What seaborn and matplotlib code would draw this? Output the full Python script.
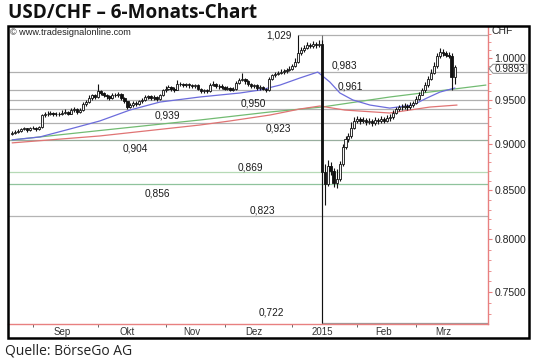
import numpy as np
import pandas as pd
import matplotlib
matplotlib.use("Agg")
import matplotlib.pyplot as plt
from matplotlib.patches import Rectangle, Polygon
from matplotlib.ticker import FixedLocator, FixedFormatter, NullFormatter
import seaborn as sns

# ---------------- data ----------------
dates = pd.bdate_range("2014-08-21", "2015-03-19")

close = [0.912, 0.913, 0.914, 0.916, 0.917, 0.915, 0.917, 0.918, 0.916, 0.919,
         0.932, 0.933, 0.934, 0.935, 0.933, 0.934, 0.933, 0.935, 0.936, 0.934,
         0.938, 0.939, 0.936, 0.938, 0.945, 0.947, 0.952, 0.955, 0.953, 0.960,
         0.958, 0.955, 0.954, 0.952, 0.956, 0.955, 0.957, 0.952, 0.948, 0.942,
         0.944, 0.946, 0.945, 0.948, 0.950, 0.953, 0.954, 0.952, 0.953, 0.951,
         0.955, 0.961, 0.963, 0.965, 0.963, 0.962, 0.969, 0.968, 0.967, 0.968,
         0.967, 0.966, 0.967, 0.963, 0.960, 0.961, 0.960, 0.967, 0.969, 0.966,
         0.966, 0.965, 0.963, 0.964, 0.962, 0.963, 0.970, 0.973, 0.975, 0.972,
         0.969, 0.966, 0.967, 0.964, 0.965, 0.963, 0.961, 0.975, 0.979, 0.981,
         0.982, 0.983, 0.984, 0.985, 0.987, 0.990, 0.995, 1.006, 1.010, 1.013,
         1.016, 1.015, 1.017, 1.016, 1.018, 0.869, 0.856, 0.876, 0.870, 0.858,
         0.862, 0.878, 0.896, 0.905, 0.908, 0.918, 0.926, 0.928, 0.925, 0.927,
         0.924, 0.926, 0.923, 0.927, 0.925, 0.928, 0.926, 0.929, 0.930, 0.935,
         0.939, 0.941, 0.942, 0.943, 0.941, 0.944, 0.946, 0.951, 0.956, 0.961,
         0.967, 0.975, 0.982, 0.990, 1.002, 1.008, 1.006, 1.004, 1.003, 0.977,
         0.9893]

high = [0.914, 0.915, 0.916, 0.918, 0.919, 0.918, 0.919, 0.920, 0.919, 0.920,
        0.934, 0.936, 0.937, 0.937, 0.936, 0.936, 0.936, 0.938, 0.939, 0.937,
        0.940, 0.942, 0.940, 0.940, 0.947, 0.950, 0.955, 0.957, 0.957, 0.968,
        0.962, 0.959, 0.957, 0.956, 0.958, 0.958, 0.959, 0.958, 0.953, 0.949,
        0.946, 0.948, 0.948, 0.950, 0.952, 0.955, 0.956, 0.955, 0.955, 0.954,
        0.957, 0.963, 0.966, 0.967, 0.966, 0.965, 0.973, 0.971, 0.970, 0.970,
        0.970, 0.969, 0.969, 0.968, 0.964, 0.963, 0.963, 0.970, 0.972, 0.970,
        0.968, 0.968, 0.966, 0.966, 0.965, 0.965, 0.972, 0.976, 0.982, 0.976,
        0.973, 0.970, 0.969, 0.968, 0.967, 0.966, 0.964, 0.977, 0.981, 0.983,
        0.984, 0.986, 0.987, 0.988, 0.990, 0.993, 1.000, 1.029, 1.014, 1.016,
        1.020, 1.019, 1.021, 1.020, 1.022, 1.022, 0.878, 0.882, 0.880, 0.874,
        0.872, 0.881, 0.900, 0.909, 0.912, 0.924, 0.930, 0.931, 0.930, 0.930,
        0.929, 0.929, 0.928, 0.930, 0.929, 0.931, 0.930, 0.932, 0.933, 0.938,
        0.942, 0.944, 0.945, 0.946, 0.945, 0.947, 0.949, 0.954, 0.959, 0.964,
        0.971, 0.978, 0.986, 0.995, 1.006, 1.012, 1.011, 1.009, 1.008, 1.006,
        0.991]

low = [0.910, 0.911, 0.912, 0.913, 0.915, 0.913, 0.914, 0.916, 0.914, 0.915,
       0.918, 0.930, 0.931, 0.932, 0.931, 0.931, 0.931, 0.932, 0.933, 0.932,
       0.933, 0.936, 0.934, 0.935, 0.937, 0.943, 0.946, 0.950, 0.951, 0.952,
       0.955, 0.953, 0.951, 0.950, 0.951, 0.953, 0.953, 0.950, 0.946, 0.939,
       0.940, 0.942, 0.943, 0.944, 0.946, 0.949, 0.951, 0.950, 0.950, 0.949,
       0.950, 0.954, 0.959, 0.961, 0.960, 0.959, 0.961, 0.966, 0.965, 0.965,
       0.964, 0.964, 0.964, 0.961, 0.958, 0.958, 0.958, 0.959, 0.966, 0.964,
       0.963, 0.963, 0.961, 0.961, 0.960, 0.960, 0.962, 0.969, 0.972, 0.969,
       0.966, 0.964, 0.964, 0.962, 0.962, 0.961, 0.959, 0.960, 0.973, 0.977,
       0.979, 0.980, 0.981, 0.982, 0.984, 0.985, 0.989, 0.994, 1.004, 1.008,
       1.011, 1.012, 1.013, 1.013, 1.014, 0.722, 0.835, 0.854, 0.866, 0.853,
       0.852, 0.860, 0.876, 0.894, 0.902, 0.906, 0.916, 0.923, 0.922, 0.923,
       0.921, 0.922, 0.920, 0.921, 0.922, 0.923, 0.923, 0.924, 0.926, 0.928,
       0.933, 0.937, 0.938, 0.939, 0.938, 0.939, 0.942, 0.945, 0.950, 0.955,
       0.959, 0.965, 0.973, 0.980, 0.988, 1.000, 1.003, 1.001, 1.000, 0.962,
       0.969]

first_open = 0.911
opens = [first_open] + close[:-1]

# moving averages / trend line (bar position, value)
blue_pos = [0, 9.4, 19.6, 29.7, 39.9, 50.1, 63.6, 77.2, 84, 90.8, 97.5, 103.6,
            107.7, 111.1, 115.5, 121.3, 128, 135.8, 140.6, 145, 150.1]
blue_val = [0.9042, 0.9075, 0.9164, 0.9255, 0.938, 0.9473, 0.9532, 0.9579,
            0.9614, 0.9673, 0.9757, 0.9829, 0.9709, 0.9579, 0.9497, 0.9438,
            0.9403, 0.9438, 0.952, 0.959, 0.9638]
red_pos = [0, 29.7, 63.6, 73.8, 87.4, 97.5, 104.3, 112.8, 128, 141.6, 150.8]
red_val = [0.9009, 0.9086, 0.9209, 0.9255, 0.9323, 0.9392, 0.9427, 0.938,
           0.9346, 0.9415, 0.9438]
green_pos = [0, 29.7, 63.6, 87.4, 105, 128, 160.6]
green_val = [0.9042, 0.9147, 0.9266, 0.9358, 0.9415, 0.9532, 0.9673]

# horizontal levels
levels = [0.983, 0.961, 0.950, 0.939, 0.923, 0.904, 0.869, 0.856, 0.823]
level_colors = ["#b0b0b0", "#b0b0b0", "#b0b0b0", "#b0b0b0", "#b0b0b0",
                "#98ae9e", "#b6dab6", "#8fc39c", "#b4b4b4"]
range_high = 1.029
range_low = 0.722
range_high_pos = 97
range_low_pos = 105

label_texts = ["1,029", "0,983", "0,961", "0,950", "0,939", "0,923", "0,904",
               "0,869", "0,856", "0,823", "0,722"]
label_values = [1.029, 0.983, 0.961, 0.950, 0.939, 0.923, 0.904, 0.869, 0.856,
                0.823, 0.722]
label_pos = [90.4, 112.8, 114.5, 81.6, 52.5, 90.4, 41.7, 80.6, 49.1, 85, 88]
label_dy = [-0.7, 4.3, 2.9, -2.9, -4.3, -3.6, -5.8, 3.6, -6.5, 4.3, 7.2]  # points

yticks = [0.75, 0.80, 0.85, 0.90, 0.95, 1.00]
ytick_labels = ["0.7500", "0.8000", "0.8500", "0.9000", "0.9500", "1.0000"]
month_names = ["Sep", "Okt", "Nov", "Dez", "2015", "Feb", "Mrz"]
last_price = 0.9893

# ---------------- derived positions ----------------
idx = np.arange(len(dates))
df = pd.DataFrame({"date": dates, "i": idx, "open": opens, "high": high,
                   "low": low, "close": close})
month_key = dates.to_period("M")
month_start = [int(np.argmax(month_key == m)) for m in month_key.unique()[1:]]
mid_pos = []
for m in month_key.unique()[1:]:
    sel = np.where((month_key == m) & (dates.day <= 15))[0]
    mid_pos.append(int(sel[-1]))

# ---------------- figure ----------------
sns.set_theme(style="white")
plt.rcParams["font.family"] = ["Liberation Sans", "DejaVu Sans"]

W, H = 540, 360
fig = plt.figure(figsize=(W / 100, H / 100), dpi=100)
fig.patch.set_facecolor("white")
ax = fig.add_axes([8 / W, (H - 324) / H, 480 / W, (324 - 27) / H])
ax.set_facecolor("white")

ax.set_yscale("log")
ax.set_xlim(-1.4, 161.3)
ax.set_ylim(0.7210, 1.0389)

# levels
for lv, col in zip(levels, level_colors):
    ax.axhline(lv, color=col, lw=0.9, zorder=1)
ax.hlines(range_high, range_high_pos, 161.3, color="#b0b0b0", lw=0.9, zorder=1)
ax.hlines(range_low, range_low_pos, 161.3, color="#9a9a9a", lw=0.9, zorder=1)
ax.vlines(range_low_pos, range_low, range_high, color="#6a6a6a", lw=0.8, zorder=1)

# level labels
for t, v, p, dy in zip(label_texts, label_values, label_pos, label_dy):
    ax.annotate(t, xy=(p, v), xytext=(0, dy), textcoords="offset points",
                ha="center", va="center", fontsize=7.3, color="#1a1a1a",
                zorder=5)

# moving averages
sns.lineplot(x=green_pos, y=green_val, ax=ax, color="#72bb72", lw=0.9, zorder=2)
sns.lineplot(x=red_pos, y=red_val, ax=ax, color="#e07474", lw=0.9, zorder=2)
sns.lineplot(x=blue_pos, y=blue_val, ax=ax, color="#6c6cdc", lw=0.9, zorder=2)

# candles
ax.vlines(df["i"], df["low"], df["high"], color="#111111", lw=0.8, zorder=3)
up = df["close"] >= df["open"]
body_bot = np.minimum(df["open"], df["close"])
body_h = np.abs(df["close"] - df["open"])
ax.bar(df["i"][up], body_h[up], bottom=body_bot[up], width=0.7,
       color="#f4f4f4", edgecolor="#111111", lw=0.6, zorder=4)
ax.bar(df["i"][~up], body_h[~up], bottom=body_bot[~up], width=0.9,
       color="#111111", edgecolor="#111111", lw=0.6, zorder=4)

# axes styling
for s in ["top", "left"]:
    ax.spines[s].set_visible(False)
for s in ["right", "bottom"]:
    ax.spines[s].set_color("#e88080")
    ax.spines[s].set_linewidth(1.0)

ax.yaxis.tick_right()
ax.yaxis.set_major_locator(FixedLocator(yticks))
ax.yaxis.set_major_formatter(FixedFormatter(ytick_labels))
ax.yaxis.set_minor_locator(FixedLocator([v / 100 for v in range(73, 104)]))
ax.yaxis.set_minor_formatter(NullFormatter())
ax.tick_params(axis="y", which="major", right=True, left=False, length=3,
               width=0.8, color="#e88080", labelsize=7.5, labelcolor="#222222",
               pad=1.5, direction="out")
ax.tick_params(axis="y", which="minor", right=True, left=False, length=1.8,
               width=0.6, color="#e88080", direction="out")

ax.set_xticks(month_start)
ax.set_xticklabels([])
ax.set_xticks(mid_pos, minor=True)
ax.set_xticklabels(month_names, minor=True)
ax.tick_params(axis="x", which="major", bottom=True, length=2.5, width=0.7,
               color="#666666", direction="out")
ax.tick_params(axis="x", which="minor", bottom=True, length=0, labelsize=7,
               labelcolor="#333333", pad=2.5)
ax.set_xlabel("")
ax.set_ylabel("")
ax.grid(False)

# last price marker (pointed box at the right axis), slightly below the price
fig.canvas.draw()
y_px = ax.transData.transform((0, last_price))[1] - 1.8
box = [(489, y_px), (493, y_px + 4.3), (527, y_px + 4.3), (527, y_px - 4.7),
       (493, y_px - 4.7)]
fig.patches.append(Polygon([(x / W, y / H) for x, y in box], closed=True,
                           transform=fig.transFigure, facecolor="white",
                           edgecolor="#8a8a8a", lw=0.7, zorder=8))
fig.text(510 / W, (y_px - 0.2) / H, f"{last_price:.4f}", ha="center",
         va="center", fontsize=7.2, color="#222222", zorder=9)

# frame and texts
fig.patches.append(Rectangle((8 / W, (H - 338) / H), 521 / W, 312 / H,
                             transform=fig.transFigure, fill=False,
                             edgecolor="black", lw=1.8, zorder=10))
fig.text(8 / W, 1 - 13 / H, "USD/CHF \u2013 6-Monats-Chart",
         family=["Open Sans", "DejaVu Sans"], fontweight="bold", fontsize=13.6,
         ha="left", va="center", color="#111111")
fig.text(10 / W, 1 - 32.5 / H, "\u00a9 www.tradesignalonline.com",
         fontsize=6.6, ha="left", va="center", color="#222222")
fig.text(491 / W, 1 - 31 / H, "CHF", fontsize=7.5, ha="left", va="center",
         color="#222222")
fig.text(5 / W, 1 - 351 / H, "Quelle: B\u00f6rseGo AG",
         family=["Open Sans", "DejaVu Sans"], fontsize=10, ha="left",
         va="center", color="#222222")

fig.savefig("out.png", dpi=100, facecolor="white")
